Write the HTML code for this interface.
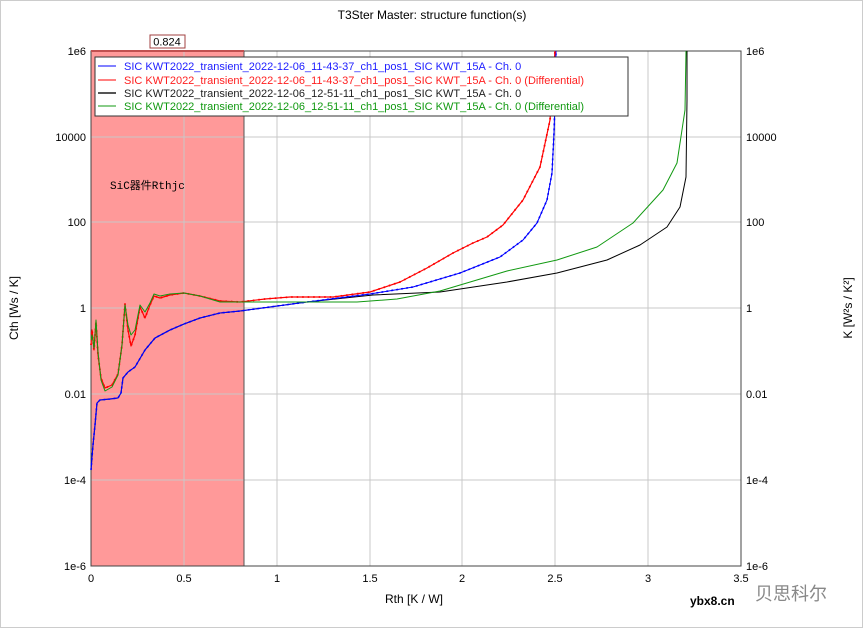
<!DOCTYPE html><html><head><meta charset="utf-8"><style>body{margin:0;background:#fff}svg{display:block;font-family:"Liberation Sans","Noto Sans CJK SC",sans-serif}</style></head><body>
<svg width="865" height="631" viewBox="0 0 865 631">
<rect x="0.5" y="0.5" width="862" height="627" fill="#fff" stroke="#ccc"/>
<text x="432" y="19" font-size="12" text-anchor="middle">T3Ster Master: structure function(s)</text>
<rect x="91" y="51" width="153" height="515" fill="#ff9999"/>
<g stroke="#c8c8c8" stroke-width="1">
<line x1="184" y1="51" x2="184" y2="566"/><line x1="277" y1="51" x2="277" y2="566"/><line x1="370" y1="51" x2="370" y2="566"/><line x1="462" y1="51" x2="462" y2="566"/><line x1="555" y1="51" x2="555" y2="566"/><line x1="648" y1="51" x2="648" y2="566"/>
<line x1="91" y1="137" x2="741" y2="137"/><line x1="91" y1="222" x2="741" y2="222"/><line x1="91" y1="308" x2="741" y2="308"/><line x1="91" y1="394" x2="741" y2="394"/><line x1="91" y1="480" x2="741" y2="480"/>
</g>
<line x1="244" y1="51" x2="244" y2="566" stroke="#555"/>
<rect x="91" y="51" width="650" height="515" fill="none" stroke="#444"/>
<line x1="91" y1="51" x2="244" y2="51" stroke="#c05050" stroke-width="2"/>
<rect x="150" y="35" width="35" height="13" fill="#fff" stroke="#a04040"/>
<text x="167" y="45.5" font-size="11" text-anchor="middle">0.824</text>
<text x="110" y="189" font-size="11" font-family="Liberation Mono,Noto Sans CJK SC,monospace">SiC器件Rthjc</text>
<g fill="none" stroke-linejoin="round">
<polyline stroke="#000" stroke-width="1" stroke-dasharray="none" points="91,470 93,445 95,425 97,403 100,400 110,399 118,398 121,393 123,378 128,372 135,367 145,350 155,338 170,330 184,324 200,318 220,313 240,311 307,302 373,295 440,292 507,282 557,273 607,260 640,245 667,227 680,207 686,177 687,100 687,51"/>
<polyline stroke="#0000ff" stroke-width="1.6" stroke-dasharray="2 3" points="91,470 93,445 95,425 97,403 100,400 110,399 118,398 121,393 123,378 128,372 135,367 145,350 155,338 170,330 184,324 200,318 220,313 240,311 307,302 370,294 413,287 460,273 500,257 523,240 537,223 547,200 552,173 554,133 555,100 556,51"/>
<polyline stroke="#0000ff" stroke-width="1" points="91,470 93,445 95,425 97,403 100,400 110,399 118,398 121,393 123,378 128,372 135,367 145,350 155,338 170,330 184,324 200,318 220,313 240,311 307,302 370,294 413,287 460,273 500,257 523,240 537,223 547,200 552,173 554,133 555,100 556,51"/>
<polyline stroke="#ff0000" stroke-width="1.2" points="91,345 92,330 94,350 96,322 98,355 101,378 105,388 112,385 118,374 122,345 125,304 128,330 131,346 135,335 140,307 145,318 150,305 154,296 160,298 170,295 184,293 200,296 220,301 240,302 265,299 290,297 333,297 370,292 400,282 427,268 453,253 473,243 487,237 503,225 523,200 540,167 550,120 555,51"/>
<polyline stroke="#ff0000" stroke-width="1.8" stroke-dasharray="1.5 4" points="91,345 92,330 94,350 96,322 98,355 101,378 105,388 112,385 118,374 122,345 125,304 128,330 131,346 135,335 140,307 145,318 150,305 154,296 160,298 170,295 184,293 200,296 220,301 240,302 265,299 290,297 333,297 370,292 400,282 427,268 453,253 473,243 487,237 503,225 523,200 540,167 550,120 555,51"/>
<polyline stroke="#119911" stroke-width="1" points="91,340 92,335 94,348 96,320 98,352 101,380 105,391 112,387 118,375 122,345 125,305 128,325 131,335 135,330 140,305 145,312 150,303 154,294 160,296 170,294 184,293 200,296 220,302 240,302 300,302 357,302 397,299 440,291 507,271 557,260 597,247 633,223 663,190 677,163 685,110 686,51"/>
</g>
<rect x="95" y="57" width="533" height="59" fill="#fff" stroke="#333"/>
<g font-size="11">
<line x1="98" y1="66" x2="116" y2="66" stroke="#00f"/><text x="124" y="70" fill="#2020ff">SIC KWT2022_transient_2022-12-06_11-43-37_ch1_pos1_SIC KWT_15A - Ch. 0</text>
<line x1="98" y1="80" x2="116" y2="80" stroke="#f00"/><text x="124" y="84" fill="#ff2020">SIC KWT2022_transient_2022-12-06_11-43-37_ch1_pos1_SIC KWT_15A - Ch. 0 (Differential)</text>
<line x1="98" y1="93" x2="116" y2="93" stroke="#555" stroke-width="2"/><text x="124" y="97" fill="#222">SIC KWT2022_transient_2022-12-06_12-51-11_ch1_pos1_SIC KWT_15A - Ch. 0</text>
<line x1="98" y1="106" x2="116" y2="106" stroke="#119911"/><text x="124" y="110" fill="#119911">SIC KWT2022_transient_2022-12-06_12-51-11_ch1_pos1_SIC KWT_15A - Ch. 0 (Differential)</text>
</g>
<g font-size="11" text-anchor="end">
<text x="86" y="55">1e6</text><text x="86" y="141">10000</text><text x="86" y="226">100</text><text x="86" y="312">1</text><text x="86" y="398">0.01</text><text x="86" y="484">1e-4</text><text x="86" y="570">1e-6</text>
</g>
<g font-size="11">
<text x="746" y="55">1e6</text><text x="746" y="141">10000</text><text x="746" y="226">100</text><text x="746" y="312">1</text><text x="746" y="398">0.01</text><text x="746" y="484">1e-4</text><text x="746" y="570">1e-6</text>
</g>
<g font-size="11" text-anchor="middle">
<text x="91" y="582">0</text><text x="184" y="582">0.5</text><text x="277" y="582">1</text><text x="370" y="582">1.5</text><text x="462" y="582">2</text><text x="555" y="582">2.5</text><text x="648" y="582">3</text><text x="741" y="582">3.5</text>
</g>
<text x="414" y="603" font-size="12" text-anchor="middle">Rth  [K / W]</text>
<text transform="translate(18,308) rotate(-90)" font-size="12" text-anchor="middle">Cth  [Ws / K]</text>
<text transform="translate(852,308) rotate(-90)" font-size="12" text-anchor="middle">K  [W²s / K²]</text>
<text x="690" y="605" font-size="12" font-weight="bold">ybx8.cn</text>
<text x="755" y="600" font-size="18" fill="#888">贝思科尔</text>
</svg></body></html>
